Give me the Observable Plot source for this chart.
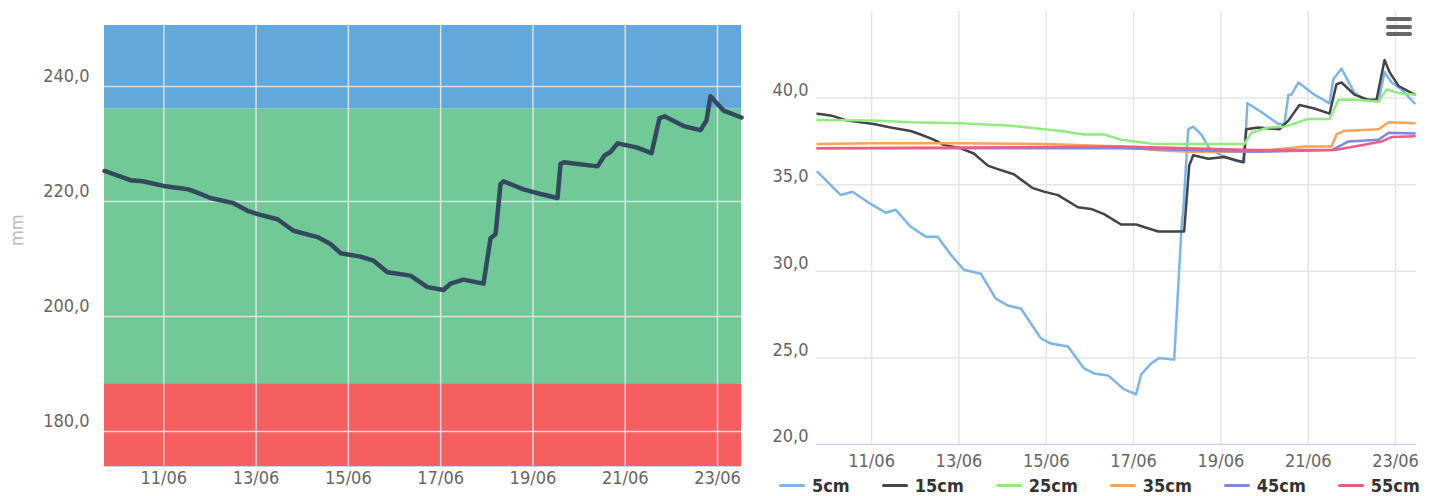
<!DOCTYPE html>
<html>
<head>
<meta charset="utf-8">
<script src="https://cdn.jsdelivr.net/npm/d3@7"></script>
<script src="https://cdn.jsdelivr.net/npm/@observablehq/plot@0.6"></script>
<style>
  body { margin: 0; background: #fff; }
  #wrap { position: relative; width: 1438px; height: 496px; overflow: hidden;
          font-family: "DejaVu Sans Condensed", "Liberation Sans Narrow", "DejaVu Sans", sans-serif; }
  #left { position: absolute; left: 0; top: 0; }
  #right { position: absolute; left: 745px; top: 0; }
  #legend { position: absolute; left: 779px; top: 475px; display: flex; align-items: center;
            gap: 32px; font-weight: bold; font-size: 18px; color: #333; white-space: nowrap; }
  .item { display: flex; align-items: center; gap: 7px; }
  .sw { width: 26px; height: 3px; border-radius: 2px; }
  #menu { position: absolute; left: 1386px; top: 17px; width: 26px; }
  #menu div { height: 4px; border-radius: 2px; background: #666; margin-bottom: 3.5px; }
</style>
</head>
<body>
<div id="wrap">
  <div id="left"></div>
  <div id="right"></div>
  <div id="legend"></div>
  <div id="menu"><div></div><div></div><div></div></div>
</div>
<script>
// ---------- data (days of June, fractional) ----------
const tickDays = [11, 13, 15, 17, 19, 21, 23];

// left chart: water storage (mm)
const leftDomainDays = [9.715, 23.52];
const leftYDomain = [173.9, 250.6];
const leftYTicks = [180, 200, 220, 240];
const bandLow  = [173.9, 188.3, 236.1];
const bandHigh = [188.3, 236.1, 250.6];
const bandColors = ["#f55f5f", "#70c997", "#62a8db"];
const leftDays = [9.715, 10.278, 10.538, 10.994, 11.362, 11.535, 11.795, 12.012, 12.511, 12.836,
  13.031, 13.464, 13.811, 14.331, 14.613, 14.830, 15.263, 15.545, 15.848, 16.347,
  16.715, 17.062, 17.214, 17.495, 17.929, 18.081, 18.189, 18.297, 18.362, 18.796,
  19.164, 19.533, 19.598, 19.663, 20.400, 20.551, 20.681, 20.833, 21.245, 21.570,
  21.743, 21.852, 22.264, 22.632, 22.762, 22.848, 22.914, 23.130, 23.520];
const leftValues = [225.3, 223.7, 223.5, 222.7, 222.3, 222.1, 221.3, 220.6, 219.7, 218.3,
  217.8, 216.9, 214.9, 213.8, 212.6, 211.0, 210.4, 209.7, 207.7, 207.1,
  205.1, 204.6, 205.7, 206.4, 205.7, 213.6, 214.3, 223.0, 223.5, 222.1,
  221.3, 220.6, 226.5, 226.8, 226.1, 228.0, 228.6, 230.1, 229.4, 228.4,
  234.5, 234.8, 233.1, 232.4, 234.1, 238.3, 237.7, 235.8, 234.6];

// right chart: soil moisture by depth
const rightDomainDays = [9.738, 23.48];
const rightYDomain = [20, 45];
const rightYTicks = [20, 25, 30, 35, 40];
const seriesNames = ["5cm", "15cm", "25cm", "35cm", "45cm", "55cm"];
const seriesColors = ["#7cb5ec", "#434348", "#90ed7d", "#f7a35c", "#8085e9", "#f15c80"];

const t5 = [9.761, 10.289, 10.564, 10.977, 11.321, 11.551, 11.895, 12.239, 12.514, 12.813,
  13.111, 13.501, 13.845, 14.121, 14.419, 14.878, 15.107, 15.497, 15.865, 16.094,
  16.415, 16.782, 17.058, 17.173, 17.402, 17.586, 17.930, 18.100, 18.140, 18.251,
  18.366, 18.549, 18.733, 19.008, 19.307, 19.536, 19.605, 19.926, 20.316, 20.454,
  20.546, 20.614, 20.775, 21.142, 21.487, 21.578, 21.762, 22.060, 22.290, 22.611,
  22.748, 22.909, 23.139, 23.437];
const v5 = [35.74, 34.41, 34.59, 33.89, 33.38, 33.55, 32.57, 32.0, 32.0, 30.96,
  30.09, 29.86, 28.42, 28.02, 27.85, 26.12, 25.83, 25.66, 24.39, 24.1,
  23.99, 23.18, 22.9, 24.04, 24.68, 25.0, 24.9, 32.6, 33.6, 38.2,
  38.35, 37.9, 37.1, 36.7, 36.4, 36.3, 39.7, 39.2, 38.5, 38.5,
  40.2, 40.2, 40.9, 40.2, 39.7, 41.1, 41.7, 40.3, 39.9, 39.8,
  41.5, 40.9, 40.5, 39.7];

const t15 = [9.761, 10.059, 10.449, 11.046, 11.436, 11.895, 12.124, 12.423, 12.652, 13.042,
  13.341, 13.662, 13.891, 14.258, 14.694, 14.947, 15.268, 15.727, 16.025, 16.324,
  16.714, 17.058, 17.563, 18.159, 18.274, 18.366, 18.710, 19.077, 19.513, 19.582,
  19.857, 20.339, 20.546, 20.798, 21.142, 21.487, 21.647, 21.762, 22.060, 22.381,
  22.565, 22.748, 22.863, 23.070, 23.437];
const v15 = [39.1, 39.0, 38.7, 38.5, 38.3, 38.1, 37.9, 37.6, 37.3, 37.1,
  36.8, 36.1, 35.9, 35.6, 34.8, 34.6, 34.4, 33.7, 33.6, 33.3,
  32.7, 32.7, 32.3, 32.3, 36.1, 36.7, 36.5, 36.6, 36.3, 38.2,
  38.3, 38.2, 38.7, 39.6, 39.4, 39.1, 40.8, 40.9, 40.2, 39.9,
  39.9, 42.2, 41.5, 40.7, 40.2];

const t25 = [9.761, 11.046, 11.895, 13.042, 14.190, 14.947, 15.337, 15.865, 16.324, 16.714,
  17.471, 19.536, 19.697, 20.087, 20.454, 21.005, 21.487, 21.693, 22.060, 22.611,
  22.794, 23.070, 23.437];
const v25 = [38.73, 38.7, 38.6, 38.55, 38.4, 38.2, 38.1, 37.9, 37.9, 37.6,
  37.35, 37.35, 38.0, 38.3, 38.35, 38.8, 38.8, 39.9, 39.9, 39.8,
  40.5, 40.3, 40.2];

const t35 = [9.761, 11.0, 13.042, 15.0, 16.714, 17.471, 18.251, 19.398, 20.156, 20.913,
  21.532, 21.647, 21.808, 22.611, 22.840, 23.437];
const v35 = [37.35, 37.4, 37.4, 37.35, 37.2, 37.0, 36.9, 36.9, 37.0, 37.2,
  37.2, 37.9, 38.1, 38.2, 38.6, 38.55];

const t45 = [9.761, 13.0, 16.714, 18.251, 19.766, 21.532, 21.693, 21.923, 22.611, 22.840, 23.437];
const v45 = [37.1, 37.1, 37.1, 37.0, 36.9, 37.0, 37.2, 37.5, 37.6, 38.0, 37.95];

const t55 = [9.761, 13.0, 16.714, 18.251, 19.766, 21.601, 22.060, 22.680, 22.909, 23.437];
const v55 = [37.1, 37.15, 37.2, 37.1, 37.0, 37.0, 37.2, 37.5, 37.75, 37.8];

// ---------- helpers ----------
const J = d => new Date(Date.UTC(2021, 5, 1) + (d - 1) * 864e5);
const fmtNum = d => d.toFixed(1).replace(".", ",");
const fmtDate = d3.utcFormat("%d/%m");
const FONT = '"DejaVu Sans Condensed", "Liberation Sans Narrow", "DejaVu Sans", sans-serif';
const tickDates = tickDays.map(J);

// ---------- left chart ----------
const bands = bandLow.map((lo, i) => ({lo, hi: bandHigh[i], color: bandColors[i]}));
const leftData = leftDays.map((d, i) => ({date: J(d), value: leftValues[i]}));

const leftPlot = Plot.plot({
  width: 745, height: 496,
  marginLeft: 104, marginRight: 4, marginTop: 25, marginBottom: 30,
  style: {fontFamily: FONT, fontSize: "18px", color: "#666", background: "transparent"},
  x: {type: "utc", domain: leftDomainDays.map(J)},
  y: {domain: leftYDomain},
  color: {type: "identity"},
  marks: [
    Plot.rect(bands, {x1: () => J(leftDomainDays[0]), x2: () => J(leftDomainDays[1]), y1: "lo", y2: "hi", fill: "color"}),
    Plot.gridX(tickDates, {stroke: "#e6e6e6", strokeOpacity: 0.9, strokeWidth: 1.5}),
    Plot.gridY(leftYTicks, {stroke: "#e6e6e6", strokeOpacity: 0.9, strokeWidth: 1.5}),
    Plot.ruleY([leftYDomain[0]], {stroke: "#ccd6eb"}),
    Plot.axisX(tickDates, {tickSize: 0, tickPadding: 5, tickFormat: fmtDate, label: null}),
    Plot.axisY(leftYTicks, {tickSize: 0, tickPadding: 15, tickFormat: fmtNum, dy: -10, label: null}),
    Plot.text(["mm"], {frameAnchor: "left", dx: -87, rotate: -90, fill: "#bbb", fontSize: 18}),
    Plot.line(leftData, {x: "date", y: "value", stroke: "#34495e", strokeWidth: 4.5, strokeLinejoin: "round", strokeLinecap: "round"})
  ]
});
document.getElementById("left").append(leftPlot);

// ---------- right chart ----------
const times = [t5, t15, t25, t35, t45, t55];
const values = [v5, v15, v25, v35, v45, v55];
const rightData = seriesNames.flatMap((name, s) =>
  times[s].map((d, i) => ({series: name, date: J(d), value: values[s][i]})));

const rightPlot = Plot.plot({
  width: 693, height: 470,
  marginLeft: 71, marginRight: 22, marginTop: 11, marginBottom: 26,
  style: {fontFamily: FONT, fontSize: "18px", color: "#666", background: "transparent"},
  x: {type: "utc", domain: rightDomainDays.map(J)},
  y: {domain: rightYDomain},
  color: {domain: seriesNames, range: seriesColors},
  marks: [
    Plot.gridX(tickDates, {stroke: "#e6e6e6", strokeOpacity: 1, strokeWidth: 1.5}),
    Plot.gridY(rightYTicks.slice(1), {stroke: "#e6e6e6", strokeOpacity: 1, strokeWidth: 1.5}),
    Plot.ruleY([rightYDomain[0]], {stroke: "#ccd6eb", strokeWidth: 1.5}),
    Plot.axisX(tickDates, {tickSize: 0, tickPadding: 10, tickFormat: fmtDate, label: null}),
    Plot.axisY(rightYTicks, {tickSize: 0, tickPadding: 8, tickFormat: fmtNum, dy: -8, label: null}),
    Plot.line(rightData, {x: "date", y: "value", z: "series", stroke: "series", strokeWidth: 2.5, strokeLinejoin: "round"})
  ]
});
document.getElementById("right").append(rightPlot);

// ---------- legend ----------
const legend = document.getElementById("legend");
seriesNames.forEach((name, i) => {
  const item = document.createElement("div");
  item.className = "item";
  const sw = document.createElement("div");
  sw.className = "sw";
  sw.style.background = seriesColors[i];
  const label = document.createElement("span");
  label.textContent = name;
  item.append(sw, label);
  legend.append(item);
});
</script>
</body>
</html>
